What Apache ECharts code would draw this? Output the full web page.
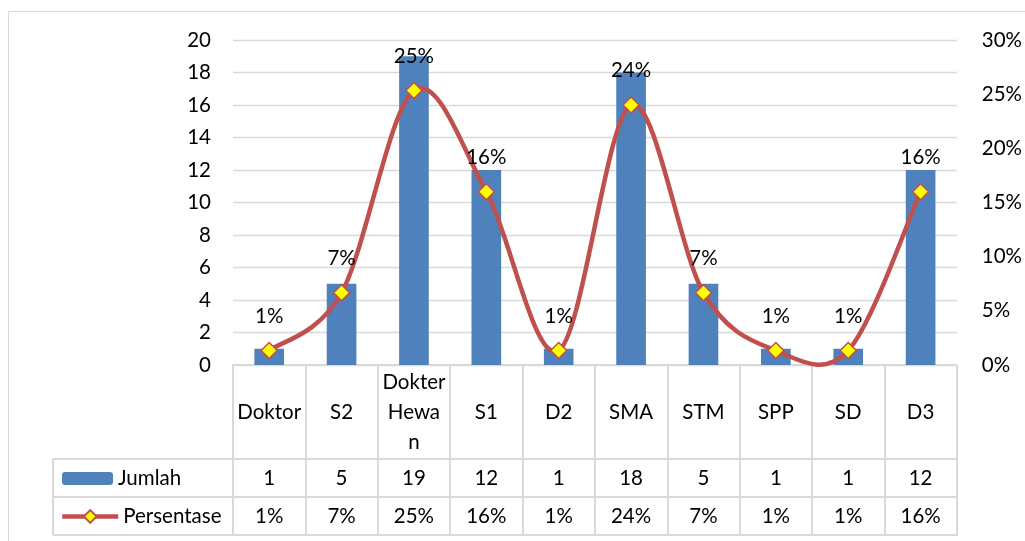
<!DOCTYPE html>
<html>
<head>
<meta charset="utf-8">
<script src="https://cdn.jsdelivr.net/npm/echarts@6/dist/echarts.min.js"></script>
<style>
html,body{margin:0;padding:0;background:#fff;}
#c{width:1025px;height:541px;}
</style>
</head>
<body>
<div id="c"></div>
<script>
// ---- data ----
var categories = ['Doktor', 'S2', 'Dokter Hewan', 'S1', 'D2', 'SMA', 'STM', 'SPP', 'SD', 'D3'];
var headerLabels = ['Doktor', 'S2', 'Dokter\nHewa\nn', 'S1', 'D2', 'SMA', 'STM', 'SPP', 'SD', 'D3'];
var jumlah = [1, 5, 19, 12, 1, 18, 5, 1, 1, 12];
var persentase = [0.0133, 0.0667, 0.2533, 0.16, 0.0133, 0.24, 0.0667, 0.0133, 0.0133, 0.16];
var leftTicks = {min: 0, max: 20, interval: 2};
var rightTicks = {min: 0, max: 0.30, interval: 0.05};

// ---- layout ----
var FONT = 'Lato';
var FS = 20.5;
var GL = 233, GR = 958, GT = 40, GB = 365;
var TABLE_LEFT = 53, ROW1 = 459, ROW2 = 497, ROW3 = 535;
var lineColor = '#D9D9D9';
var red = '#C0504D';

function pct(v) { return Math.round(v * 100) + '%'; }

var chart = echarts.init(document.getElementById('c'), null, {renderer: 'canvas'});

var decor = [ROW1, ROW2, ROW3].map(function (y) {
  return {type: 'line', shape: {x1: TABLE_LEFT, y1: y, x2: GR, y2: y},
          style: {stroke: lineColor, lineWidth: 2}, z: 10};
});
decor.push({type: 'line', shape: {x1: TABLE_LEFT, y1: ROW1, x2: TABLE_LEFT, y2: ROW3},
            style: {stroke: lineColor, lineWidth: 2}, z: 10});
decor.push({type: 'rect', shape: {x: 8.5, y: 11.5, width: 1100, height: 600},
            style: {fill: 'none', stroke: lineColor, lineWidth: 1}, z: 0});

// Smoothed curve (Catmull-Rom style, like the spreadsheet's smoothed line) through the data points
function renderCurve(params, api) {
  var i = params.dataIndex, n = persentase.length;
  if (i >= n - 1) return null;
  function P(k) {
    k = Math.max(0, Math.min(n - 1, k));
    return api.coord([k, api.value(1, k)]);
  }
  var p0 = P(i - 1), p1 = P(i), p2 = P(i + 1), p3 = P(i + 2);
  var t = 1 / 6;
  return {
    type: 'bezierCurve',
    shape: {
      x1: p1[0], y1: p1[1], x2: p2[0], y2: p2[1],
      cpx1: p1[0] + (p2[0] - p0[0]) * t, cpy1: p1[1] + (p2[1] - p0[1]) * t,
      cpx2: p2[0] - (p3[0] - p1[0]) * t, cpy2: p2[1] - (p3[1] - p1[1]) * t
    },
    style: {stroke: red, lineWidth: 4.5, fill: null, lineCap: 'round'}
  };
}

var option = {
  animation: false,
  textStyle: {fontFamily: FONT},
  grid: {left: GL, right: 1025 - GR, top: GT, bottom: 541 - GB, containLabel: false},
  legend: [
    {data: ['Jumlah'], left: 62, top: 468, padding: 0, itemWidth: 51, itemHeight: 13, itemGap: 6,
     textStyle: {fontFamily: FONT, fontSize: FS, color: '#000'}},
    {data: ['Persentase'], left: 60, top: 506, padding: 0, itemWidth: 56, itemHeight: 16, itemGap: 4,
     lineStyle: {color: red, width: 4.5, opacity: 1},
     textStyle: {fontFamily: FONT, fontSize: FS, color: '#000'}}
  ],
  xAxis: [
    {type: 'category', data: categories, boundaryGap: true,
     axisLine: {show: true, lineStyle: {color: lineColor, width: 2}},
     axisTick: {show: true, length: ROW3 - GB, lineStyle: {color: lineColor, width: 2}},
     axisLabel: {interval: 0, margin: 47, verticalAlign: 'middle', lineHeight: 30,
                 fontFamily: FONT, fontSize: FS, color: '#000',
                 formatter: function (v, i) { return headerLabels[i]; }}},
    {type: 'category', data: categories, boundaryGap: true, position: 'bottom',
     axisLine: {show: false}, axisTick: {show: false},
     axisLabel: {interval: 0, margin: 113, verticalAlign: 'middle',
                 fontFamily: FONT, fontSize: FS, color: '#000',
                 formatter: function (v, i) { return String(jumlah[i]); }}},
    {type: 'category', data: categories, boundaryGap: true, position: 'bottom',
     axisLine: {show: false}, axisTick: {show: false},
     axisLabel: {interval: 0, margin: 151, verticalAlign: 'middle',
                 fontFamily: FONT, fontSize: FS, color: '#000',
                 formatter: function (v, i) { return pct(persentase[i]); }}}
  ],
  yAxis: [
    {type: 'value', min: leftTicks.min, max: leftTicks.max, interval: leftTicks.interval,
     axisLine: {show: false}, axisTick: {show: false},
     splitLine: {show: true, lineStyle: {color: lineColor, width: 1.3}},
     axisLabel: {margin: 22, fontFamily: FONT, fontSize: FS, color: '#000'}},
    {type: 'value', min: rightTicks.min, max: rightTicks.max, interval: rightTicks.interval,
     position: 'right',
     axisLine: {show: false}, axisTick: {show: false}, splitLine: {show: false},
     axisLabel: {margin: 25, fontFamily: FONT, fontSize: FS, color: '#000',
                 formatter: function (v) { return Math.round(v * 100) + '%'; }}}
  ],
  series: [
    {name: 'Jumlah', type: 'bar', xAxisIndex: 0, yAxisIndex: 0, data: jumlah,
     barWidth: '41%', itemStyle: {color: '#4F81BD'}, z: 2},
    {name: 'PersentaseCurve', type: 'custom', xAxisIndex: 0, yAxisIndex: 1,
     data: persentase.map(function (v, i) { return [i, v]; }),
     encode: {x: 0, y: 1}, renderItem: renderCurve, clip: false, silent: true, z: 3},
    {name: 'Persentase', type: 'line', xAxisIndex: 0, yAxisIndex: 1, data: persentase,
     clip: false,
     lineStyle: {color: red, width: 4.5, opacity: 0},
     symbol: 'diamond', symbolSize: 16,
     itemStyle: {color: '#FFFF00', borderColor: red, borderWidth: 1.5},
     label: {show: true, position: 'top', distance: 15, fontFamily: FONT, fontSize: FS, color: '#000',
             formatter: function (p) { return pct(p.value); }},
     z: 4}
  ],
  graphic: decor
};
chart.setOption(option);
</script>
</body>
</html>
